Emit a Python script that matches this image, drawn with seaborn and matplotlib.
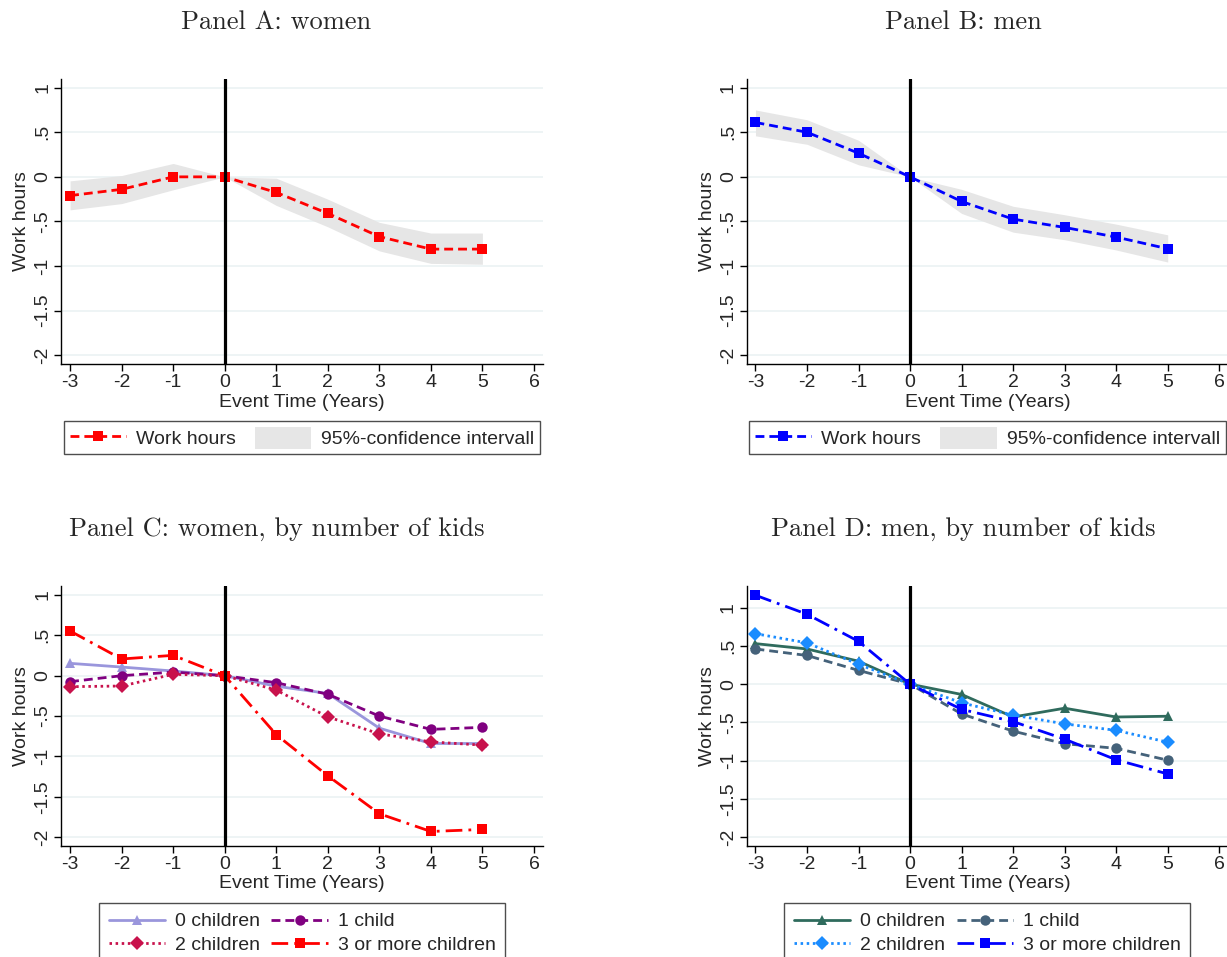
import matplotlib
matplotlib.use("Agg")
import matplotlib.pyplot as plt
import seaborn as sns
import numpy as np

# event time in years
years = [-3, -2, -1, 0, 1, 2, 3, 4, 5]

# Panel A: women
women = [-0.21, -0.14, 0.0, 0.0, -0.175, -0.41, -0.67, -0.81, -0.81]
women_hi = [-0.045, 0.015, 0.15, 0.0, -0.015, -0.25, -0.51, -0.63, -0.63]
women_lo = [-0.37, -0.30, -0.145, 0.0, -0.32, -0.56, -0.83, -0.97, -0.98]

# Panel B: men
men = [0.61, 0.50, 0.265, 0.0, -0.276, -0.474, -0.567, -0.675, -0.806]
men_hi = [0.75, 0.64, 0.41, 0.0, -0.14, -0.33, -0.425, -0.53, -0.65]
men_lo = [0.46, 0.365, 0.135, 0.0, -0.41, -0.62, -0.705, -0.82, -0.955]

# Panel C: women by number of kids
w_kids0 = [0.153, 0.107, 0.058, 0.0, -0.13, -0.22, -0.65, -0.84, -0.84]
w_kids1 = [-0.074, 0.0, 0.045, 0.0, -0.087, -0.23, -0.50, -0.665, -0.64]
w_kids2 = [-0.136, -0.128, 0.017, 0.0, -0.178, -0.51, -0.72, -0.82, -0.86]
w_kids3 = [0.554, 0.207, 0.252, 0.0, -0.73, -1.24, -1.71, -1.93, -1.905]

# Panel D: men by number of kids
m_kids0 = [0.53, 0.46, 0.30, 0.0, -0.135, -0.43, -0.315, -0.43, -0.42]
m_kids1 = [0.46, 0.375, 0.18, 0.0, -0.39, -0.615, -0.78, -0.84, -0.995]
m_kids2 = [0.66, 0.54, 0.26, 0.0, -0.245, -0.405, -0.52, -0.605, -0.76]
m_kids3 = [1.163, 0.915, 0.56, 0.0, -0.33, -0.49, -0.72, -0.99, -1.175]

kid_labels = ["0 children", "1 child", "2 children", "3 or more children"]
ytick_vals = [-2, -1.5, -1, -0.5, 0, 0.5, 1]
ytick_text = ["-2", "-1.5", "-1", "-.5", "0", ".5", "1"]
xtick_vals = [-3, -2, -1, 0, 1, 2, 3, 4, 5, 6]

sns.set_style("white")
plt.rcParams['font.family'] = ['Liberation Sans', 'DejaVu Sans']

FS = 14
W, H = 1227, 957
fig = plt.figure(figsize=(W / 100, H / 100), dpi=100)


def px_axes(left, top, right, bottom):
    return fig.add_axes([left / W, 1 - bottom / H, (right - left) / W,
                         (bottom - top) / H])


def style_axes(ax, ylim):
    ax.set_xlim(-3.17, 6.17)
    ax.set_ylim(*ylim)
    ax.set_xticks(xtick_vals)
    ax.set_xticklabels([str(v) for v in xtick_vals], fontsize=FS)
    ax.set_yticks(ytick_vals)
    ax.set_yticklabels(ytick_text, fontsize=FS, rotation=90, va='center')
    ax.yaxis.grid(True, color='#e9f1f2', lw=1.1)
    ax.xaxis.grid(False)
    ax.set_axisbelow(True)
    for s in ['top', 'right']:
        ax.spines[s].set_visible(False)
    for s in ['left', 'bottom']:
        ax.spines[s].set_color('black')
        ax.spines[s].set_linewidth(1.0)
    ax.tick_params(direction='out', length=5, width=1, color='black',
                   left=True, bottom=True, pad=2)
    ax.set_xlabel("Event Time (Years)", fontsize=FS, labelpad=2)
    ax.set_ylabel("Work hours", fontsize=FS, labelpad=3)
    ax.axvline(0, color='black', lw=2.3, zorder=4)


def draw_line(ax, y, color, marker, ls, label, ms=7.5):
    sns.lineplot(x=years, y=y, ax=ax, color=color, marker=marker,
                 linestyle=ls, lw=2.0, markersize=ms, markeredgewidth=0,
                 label=label, zorder=3)


def make_legend(ax, handles, labels, anchor_y, colsp, hh, lsp, bpad):
    leg = ax.legend(handles, labels, loc='upper center',
                    bbox_to_anchor=(0.5, anchor_y), ncol=2, fontsize=FS,
                    frameon=True, fancybox=False, edgecolor='#222222',
                    handlelength=2.9, handleheight=hh, columnspacing=colsp,
                    borderpad=bpad, labelspacing=lsp, handletextpad=0.5,
                    borderaxespad=0)
    leg.get_frame().set_linewidth(1.0)
    return leg


dash = (0, (3.2, 1.8))
dot = (0, (0.9, 1.3))
dashdot = (0, (6, 2.2, 1, 2.2))

# ---------------------------------------------------------------- Panel A
axA = px_axes(61.3, 79, 542.7, 364)
axA.fill_between(years, women_lo, women_hi, color='#e6e6e6', lw=0,
                 label="95%-confidence intervall", zorder=1)
draw_line(axA, women, '#ff0000', 's', dash, "Work hours")
style_axes(axA, (-2.098, 1.097))
h, l = axA.get_legend_handles_labels()
make_legend(axA, [h[1], h[0]], [l[1], l[0]], -0.2, 1.0, 1.35, 0.1, 0.3)

# ---------------------------------------------------------------- Panel B
axB = px_axes(746.7, 79, 1228, 364)
axB.fill_between(years, men_lo, men_hi, color='#e6e6e6', lw=0,
                 label="95%-confidence intervall", zorder=1)
draw_line(axB, men, '#0000ff', 's', dash, "Work hours")
style_axes(axB, (-2.098, 1.097))
h, l = axB.get_legend_handles_labels()
make_legend(axB, [h[1], h[0]], [l[1], l[0]], -0.2, 1.0, 1.35, 0.1, 0.3)

# ---------------------------------------------------------------- Panel C
axC = px_axes(61.3, 585.7, 542.7, 846)
draw_line(axC, w_kids0, '#9a96dc', '^', '-', kid_labels[0])
draw_line(axC, w_kids1, '#800080', 'o', dash, kid_labels[1])
draw_line(axC, w_kids2, '#c8124c', 'D', dot, kid_labels[2], ms=7)
draw_line(axC, w_kids3, '#ff0000', 's', dashdot, kid_labels[3])
style_axes(axC, (-2.11, 1.115))
h, l = axC.get_legend_handles_labels()
order = [0, 2, 1, 3]
make_legend(axC, [h[i] for i in order], [l[i] for i in order], -0.219, 0.6,
            0.7, 0.32, 0.5)

# ---------------------------------------------------------------- Panel D
axD = px_axes(746.7, 585.7, 1228, 846)
draw_line(axD, m_kids0, '#2f6b5d', '^', '-', kid_labels[0])
draw_line(axD, m_kids1, '#45627a', 'o', dash, kid_labels[1])
draw_line(axD, m_kids2, '#1a8cff', 'D', dot, kid_labels[2], ms=7)
draw_line(axD, m_kids3, '#0000ff', 's', dashdot, kid_labels[3])
style_axes(axD, (-2.118, 1.288))
h, l = axD.get_legend_handles_labels()
make_legend(axD, [h[i] for i in order], [l[i] for i in order], -0.219, 0.6,
            0.7, 0.32, 0.5)

# panel titles in a Computer Modern face
tkw = dict(fontsize=19, fontfamily='cmr10', ha='center', va='baseline')
fig.text(276.5 / W, 1 - 29 / H, "Panel A: women", **tkw)
fig.text(963 / W, 1 - 29 / H, "Panel B: men", **tkw)
fig.text(277 / W, 1 - 536 / H, "Panel C: women, by number of kids", **tkw)
fig.text(963.5 / W, 1 - 536 / H, "Panel D: men, by number of kids", **tkw)

fig.savefig("out.png", dpi=100, facecolor='white')
